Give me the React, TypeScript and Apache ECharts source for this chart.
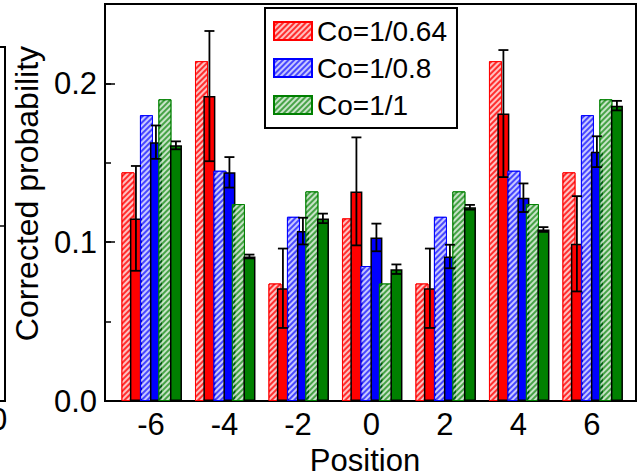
import React, { useEffect, useRef } from "react";
import * as echarts from "echarts";

// Positions along the lattice and the tick labels drawn under them
const positions = [-6, -4, -2, 0, 2, 4, 6];
const tickLabels = ["-6", "-4", "-2", "0", "2", "4", "6"];

// Legend names for the three coupling ratios
const ratioNames = ["Co=1/0.64", "Co=1/0.8", "Co=1/1"];

// Calculated distributions (hatched bars)
const calc064 = [0.144, 0.214, 0.074, 0.115, 0.074, 0.214, 0.144];
const calc08 = [0.18, 0.145, 0.116, 0.085, 0.116, 0.145, 0.18];
const calc1 = [0.19, 0.124, 0.132, 0.074, 0.132, 0.124, 0.19];

// Measured distributions (solid bars) and their uncertainties
const meas064 = [0.115, 0.192, 0.071, 0.132, 0.071, 0.181, 0.099];
const err064 = [0.033, 0.041, 0.025, 0.034, 0.025, 0.04, 0.03];
const meas08 = [0.163, 0.144, 0.107, 0.103, 0.091, 0.128, 0.157];
const err08 = [0.0105, 0.0096, 0.0084, 0.0087, 0.0074, 0.009, 0.0097];
const meas1 = [0.161, 0.091, 0.115, 0.083, 0.122, 0.108, 0.186];
const err1 = [0.0025, 0.0012, 0.003, 0.003, 0.0015, 0.0015, 0.003];

const FONT = "'Liberation Sans', Arial, sans-serif";
const solidColors = ["#ff0000", "#0000ff", "#008000"];
const hatchColors = ["rgba(255,0,0,0.82)", "rgba(0,0,255,0.72)", "rgba(0,128,0,0.72)"];

export default function App() {
  const ref = useRef<HTMLDivElement>(null);

  useEffect(() => {
    if (!ref.current) return;
    const chart = echarts.init(ref.current, null, { renderer: "svg" });

    const calc = [calc064, calc08, calc1];
    const meas = [meas064, meas08, meas1];
    const errs = [err064, err08, err1];

    const series: any[] = [];
    for (let i = 0; i < 3; i++) {
      series.push({
        name: ratioNames[i],
        type: "bar",
        xAxisIndex: 1,
        yAxisIndex: 0,
        barWidth: 13,
        barGap: "42%",
        data: positions.map((p, k) => [p, calc[i][k]]),
        itemStyle: {
          color: hatchColors[i],
          borderColor: solidColors[i],
          borderWidth: 1,
          decal: {
            symbol: "rect",
            symbolSize: 1,
            dashArrayX: [1, 0],
            dashArrayY: [1.5, 1.8],
            rotation: -Math.PI / 4,
            color: "rgba(255,255,255,0.7)",
          },
        },
      });
      series.push({
        name: ratioNames[i] + " measured",
        type: "bar",
        xAxisIndex: 2,
        yAxisIndex: 0,
        barWidth: 12,
        barGap: "67%",
        data: positions.map((p, k) => [p, meas[i][k]]),
        itemStyle: { color: solidColors[i], borderColor: "#000", borderWidth: 1.5 },
      });
    }
    for (let i = 0; i < 3; i++) {
      const offset = (i - 1) * 20;
      series.push({
        name: ratioNames[i] + " error",
        type: "custom",
        xAxisIndex: 2,
        yAxisIndex: 0,
        z: 10,
        encode: { x: 0, y: [1, 2] },
        data: positions.map((p, k) => [p, meas[i][k] - errs[i][k], meas[i][k] + errs[i][k]]),
        renderItem: (params: any, api: any) => {
          const pos = api.value(0);
          const lo = api.coord([pos, api.value(1)]);
          const hi = api.coord([pos, api.value(2)]);
          const x = lo[0] + offset;
          const half = 5;
          const style = { stroke: "#000", lineWidth: 1.8, fill: "none" };
          return {
            type: "group",
            children: [
              { type: "line", shape: { x1: x, y1: hi[1], x2: x, y2: lo[1] }, style },
              { type: "line", shape: { x1: x - half, y1: hi[1], x2: x + half, y2: hi[1] }, style },
              { type: "line", shape: { x1: x - half, y1: lo[1], x2: x + half, y2: lo[1] }, style },
            ],
          };
        },
      });
    }

    chart.setOption({
      animation: false,
      backgroundColor: "#fff",
      textStyle: { fontFamily: FONT },
      grid: {
        left: 105,
        right: 3,
        top: 4,
        bottom: 75,
        show: true,
        borderColor: "#000",
        borderWidth: 2,
        backgroundColor: "transparent",
        containLabel: false,
        outerBoundsMode: "none",
      },
      legend: {
        data: ratioNames,
        orient: "vertical",
        left: 265,
        top: 8,
        itemWidth: 38,
        itemHeight: 18,
        itemGap: 9,
        padding: [9, 10, 9, 8],
        borderColor: "#000",
        borderWidth: 2,
        backgroundColor: "#fff",
        icon: "rect",
        textStyle: { fontSize: 28, color: "#000", fontFamily: FONT },
      },
      xAxis: [
        {
          type: "value",
          min: -7.25,
          max: 7.2,
          position: "bottom",
          axisLine: { show: true, onZero: false, lineStyle: { color: "#000", width: 2 } },
          axisTick: { show: false },
          splitLine: { show: false },
          axisLabel: {
            customValues: positions,
            formatter: (v: number) => tickLabels[positions.indexOf(Math.round(v))] ?? "",
            fontSize: 31,
            color: "#000",
            margin: 8,
            fontFamily: FONT,
          },
          name: "Position",
          nameLocation: "middle",
          nameGap: 44,
          nameTextStyle: { fontSize: 31, color: "#000", fontFamily: FONT, padding: [0, 11, 0, 0] },
        },
        { type: "value", min: -7.128, max: 7.322, show: false, axisLine: { onZero: false } },
        { type: "value", min: -7.386, max: 7.064, show: false, axisLine: { onZero: false } },
      ],
      yAxis: [
        {
          type: "value",
          min: 0,
          max: 0.25,
          interval: 0.05,
          position: "left",
          axisLine: { show: true, onZero: false, lineStyle: { color: "#000", width: 2 } },
          axisTick: { show: true, inside: true, length: 6, lineStyle: { color: "#000", width: 1.5 } },
          splitLine: { show: false },
          axisLabel: {
            formatter: (v: number) =>
              Math.abs(v * 10 - Math.round(v * 10)) < 1e-6 && v < 0.24 ? v.toFixed(1) : "",
            fontSize: 31,
            color: "#000",
            margin: 8,
            fontFamily: FONT,
          },
          name: "Corrected probability",
          nameLocation: "middle",
          nameGap: 57,
          nameTextStyle: { fontSize: 32, color: "#000", fontFamily: FONT, padding: [0, 0, 0, 18] },
        },
        {
          type: "value",
          min: 0,
          max: 0.25,
          interval: 0.1,
          position: "left",
          axisLine: { show: false, onZero: false },
          axisTick: { show: true, inside: true, length: 10, lineStyle: { color: "#000", width: 1.5 } },
          axisLabel: { show: false },
          splitLine: { show: false },
        },
      ],
      graphic: [
        // edge of the neighbouring panel
        {
          type: "polyline",
          shape: { points: [[-2, 47], [5, 47], [5, 401], [-2, 401]] },
          style: { stroke: "#000", lineWidth: 2, fill: "none" },
        },
        { type: "line", shape: { x1: -2, y1: 226, x2: 5, y2: 226 }, style: { stroke: "#000", lineWidth: 1.5 } },
        {
          type: "text",
          x: -10,
          y: 404,
          style: { text: "0", fontSize: 31, fill: "#000", fontFamily: FONT },
        },
      ],
      series,
    });

    return () => chart.dispose();
  }, []);

  return (
    <div
      ref={ref}
      style={{ position: "fixed", left: 0, top: 0, width: 639, height: 476, background: "#fff" }}
    />
  );
}
